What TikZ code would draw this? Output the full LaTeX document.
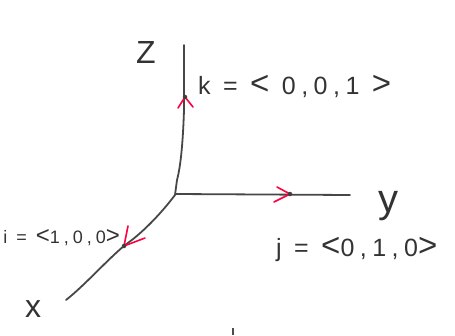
\documentclass[tikz,border=0pt]{standalone}
\usepackage{fontspec}
\setmainfont{Liberation Sans}
\newfontfamily\hand[LetterSpace=22]{Liberation Sans}
\newcommand{\lt}{{\fontsize{33}{33}\selectfont<}}
\newcommand{\gt}{{\fontsize{33}{33}\selectfont>}}
\begin{document}
\begin{tikzpicture}[x=1pt,y=-1pt,
  axis/.style={draw=black!72, line width=1.8pt, line cap=round},
  chev/.style={draw=red!75!magenta, line width=1.6pt, line cap=round},
  tipdot/.style={fill=black!75, circle, inner sep=0pt, minimum size=4.5pt},
  lab/.style={inner sep=0pt, text=black!80, font=\hand\fontsize{25}{25}\selectfont},
  axlab/.style={inner sep=0pt, text=black!80, font=\fontsize{32}{32}\selectfont}]
\useasboundingbox (0,0) rectangle (455,335);
\clip (0,0) rectangle (455,335);
% axis ends
\coordinate (O) at (175,195);
\coordinate (Ztop) at (184,45);
\coordinate (Yend) at (350,195);
\coordinate (Xend) at (66,300);
% axes
\draw[axis] (O) -- (177,180) .. controls (181,165) and (183,140) .. (184,110) -- (Ztop);
\draw[axis] (176,194) -- (Yend);
\draw[axis] (O) .. controls (160,215) and (140,235) .. (125,245) .. controls (105,262) and (85,285) .. (Xend);
% chevrons
\coordinate (kt) at (185,97);
\draw[chev] (178,108) -- (kt) -- (193,107);
\node[tipdot] (ktd) at (kt) {};
\coordinate (jt) at (290,194);
\draw[chev] (277,187) -- (jt) -- (274,202);
\node[tipdot] (jtd) at (jt) {};
\coordinate (it) at (124,246);
\draw[chev] (128,226) -- (it) -- (145,238);
\node[tipdot] (itd) at (it) {};
% labels
\node[axlab] (zl) at (146,52) {Z};
\node[axlab, font=\fontsize{40}{40}\selectfont] (yl) at (388,206) {y};
\node[axlab] (xl) at (33,309) {x};
\node[lab, anchor=west] (kl) at (198,86) {k = \lt\ 0,0,1 \gt};
\node[lab, anchor=west] (jl) at (276,249) {j = \lt 0,1,0\gt};
\node[lab, anchor=east, font=\hand\fontsize{18}{18}\selectfont] (il) at (120,238) {i = {\fontsize{24}{24}\selectfont<}1,0,0{\fontsize{24}{24}\selectfont>}};
\draw[black!70, line width=1.2pt] (233,328) -- (233,335);
\end{tikzpicture}
\end{document}
